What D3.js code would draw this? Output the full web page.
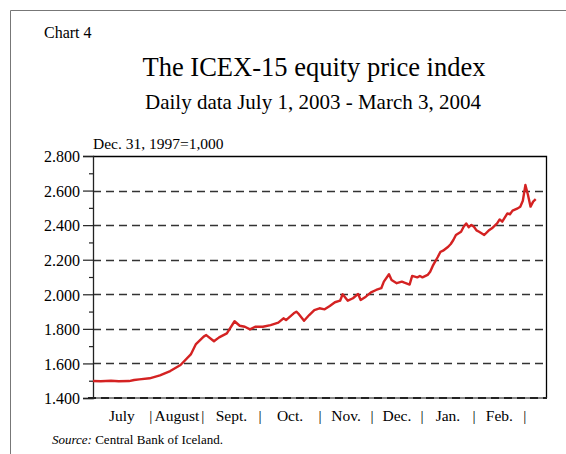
<!DOCTYPE html>
<html>
<head>
<meta charset="utf-8">
<script src="https://cdn.jsdelivr.net/npm/d3@7"></script>
<style>
  body { margin: 0; background: #fff; }
  svg text { font-family: "Liberation Serif", "Times New Roman", serif; fill: #000; }
</style>
</head>
<body>
<div id="chart"></div>
<script>
// ICEX-15 (x = trading day since July 1, 2003)
const tradingDay = [0, 3, 7, 10, 14, 16, 18, 22, 26, 30, 34, 38, 40, 43, 44, 47, 49, 52, 55, 57,
  59, 61, 63, 66, 69, 72, 74, 75, 78, 79, 80, 82, 84, 86, 88, 90, 92, 94, 96, 97,
  99, 101, 103, 104, 106, 108, 110, 112, 113, 115, 116, 118, 120, 121, 123, 124, 126, 127, 128, 130,
  131, 132, 134, 135, 136, 138, 139, 140, 141, 143, 144, 145, 146, 147, 148, 149, 150, 152, 154, 155,
  157, 158, 159, 161, 162, 163, 165, 166, 167, 168, 169, 170, 171, 172];
const icex = [1498, 1497, 1500, 1497, 1498, 1504, 1508, 1514, 1531, 1556, 1591, 1652, 1712, 1755, 1764, 1728, 1751, 1774, 1844, 1818,
  1812, 1797, 1812, 1812, 1822, 1836, 1861, 1851, 1890, 1899, 1885, 1847, 1880, 1909, 1919, 1913, 1932, 1954, 1963, 2000,
  1963, 1977, 2002, 1967, 1986, 2011, 2025, 2035, 2073, 2116, 2083, 2064, 2073, 2067, 2056, 2106, 2098, 2106, 2098, 2112,
  2131, 2164, 2217, 2246, 2252, 2275, 2291, 2314, 2343, 2362, 2391, 2410, 2388, 2401, 2391, 2370, 2362, 2343, 2372, 2382,
  2410, 2433, 2420, 2468, 2463, 2484, 2497, 2507, 2541, 2632, 2574, 2507, 2536, 2550];

const months = ["July", "August", "Sept.", "Oct.", "Nov.", "Dec.", "Jan.", "Feb."];
// trading day where each month ends (the "|" marks)
const monthBreaks = [22.5, 42.7, 64.9, 88.2, 108.4, 127.8, 148, 167.8];
const yMajor = [1400, 1600, 1800, 2000, 2200, 2400, 2600, 2800];
const yMinor = [1500, 1700, 1900, 2100, 2300, 2500, 2700];

const W = 566, H = 454;
const plot = { left: 93, right: 546, top: 156, bottom: 398 };

const svg = d3.select("#chart").append("svg")
  .attr("width", W)
  .attr("height", H);

// page frame
svg.append("path")
  .attr("d", `M10.5,${H} V10.5 H${W}`)
  .attr("fill", "none")
  .attr("stroke", "#777")
  .attr("stroke-width", 1);

svg.append("text").attr("x", 44).attr("y", 38)
  .style("font-size", "16px").text("Chart 4");
svg.append("text").attr("x", 314).attr("y", 76).attr("text-anchor", "middle")
  .style("font-size", "26.5px").text("The ICEX-15 equity price index");
svg.append("text").attr("x", 313).attr("y", 109).attr("text-anchor", "middle")
  .style("font-size", "21px").text("Daily data July 1, 2003 - March 3, 2004");
svg.append("text").attr("x", 93).attr("y", 149)
  .style("font-size", "15.5px").text("Dec. 31, 1997=1,000");

const x = d3.scaleLinear().domain([0, 176]).range([plot.left, plot.right]);
const y = d3.scaleLinear().domain([1400, 2800]).range([plot.bottom, plot.top]);

const fmt = d3.formatLocale({ decimal: ",", thousands: ".", grouping: [3], currency: ["", ""] }).format(",d");

// dashed grid
svg.append("g")
  .selectAll("line")
  .data(yMajor.filter(v => v > 1400 && v < 2800))
  .join("line")
  .attr("x1", plot.left).attr("x2", plot.right)
  .attr("y1", d => Math.round(y(d)) + 0.5).attr("y2", d => Math.round(y(d)) + 0.5)
  .attr("stroke", "#333")
  .attr("stroke-width", 1.3)
  .attr("stroke-dasharray", "8,5");

// top and right frame of the plot
svg.append("path")
  .attr("d", `M${plot.left},${Math.round(y(2800)) + 0.5} H${plot.right + 0.5} V${plot.bottom}`)
  .attr("fill", "none")
  .attr("stroke", "#000")
  .attr("stroke-width", 1.3);

// bottom axis line (grey with dark dashes)
svg.append("line")
  .attr("x1", plot.left - 5).attr("x2", plot.right + 1)
  .attr("y1", plot.bottom).attr("y2", plot.bottom)
  .attr("stroke", "#888").attr("stroke-width", 2.2);
svg.append("line")
  .attr("x1", plot.left - 5).attr("x2", plot.right + 1)
  .attr("y1", plot.bottom).attr("y2", plot.bottom)
  .attr("stroke", "#222").attr("stroke-width", 2.2)
  .attr("stroke-dasharray", "8,5");

// y axis
const yAxis = svg.append("g")
  .attr("transform", `translate(${plot.left},0)`)
  .call(d3.axisLeft(y).tickValues(yMajor).tickSize(10).tickPadding(3).tickFormat(fmt));
yAxis.select(".domain").attr("stroke", "#222").attr("stroke-width", 1.3);
yAxis.selectAll(".tick line").attr("stroke", "#222").attr("stroke-width", 1.2);
yAxis.selectAll(".tick text")
  .style("font-family", "Liberation Serif, serif")
  .style("font-size", "16px")
  .attr("dy", "0.36em");

svg.append("g")
  .attr("transform", `translate(${plot.left},0)`)
  .call(d3.axisLeft(y).tickValues(yMinor).tickSize(4).tickFormat(""))
  .call(g => g.select(".domain").remove())
  .selectAll(".tick line").attr("stroke", "#222").attr("stroke-width", 1.2);

// month labels and "|" separators
const bounds = [0].concat(monthBreaks);
svg.append("g")
  .selectAll("text")
  .data(months)
  .join("text")
  .attr("x", (d, i) => x((bounds[i] + bounds[i + 1]) / 2))
  .attr("y", 421)
  .attr("text-anchor", "middle")
  .style("font-size", "15.5px")
  .text(d => d);

svg.append("g")
  .selectAll("text")
  .data(monthBreaks)
  .join("text")
  .attr("x", d => x(d))
  .attr("y", 421)
  .attr("text-anchor", "middle")
  .style("font-size", "15.5px")
  .text("|");

// the index
const line = d3.line()
  .x((d, i) => x(tradingDay[i]))
  .y(d => y(d));

svg.append("path")
  .datum(icex)
  .attr("d", line)
  .attr("fill", "none")
  .attr("stroke", "#d42222")
  .attr("stroke-width", 2.4)
  .attr("stroke-linejoin", "round");

// source note
const src = svg.append("text").attr("x", 52).attr("y", 444).style("font-size", "13px");
src.append("tspan").style("font-style", "italic").text("Source:");
src.append("tspan").text(" Central Bank of Iceland.");
</script>
</body>
</html>
